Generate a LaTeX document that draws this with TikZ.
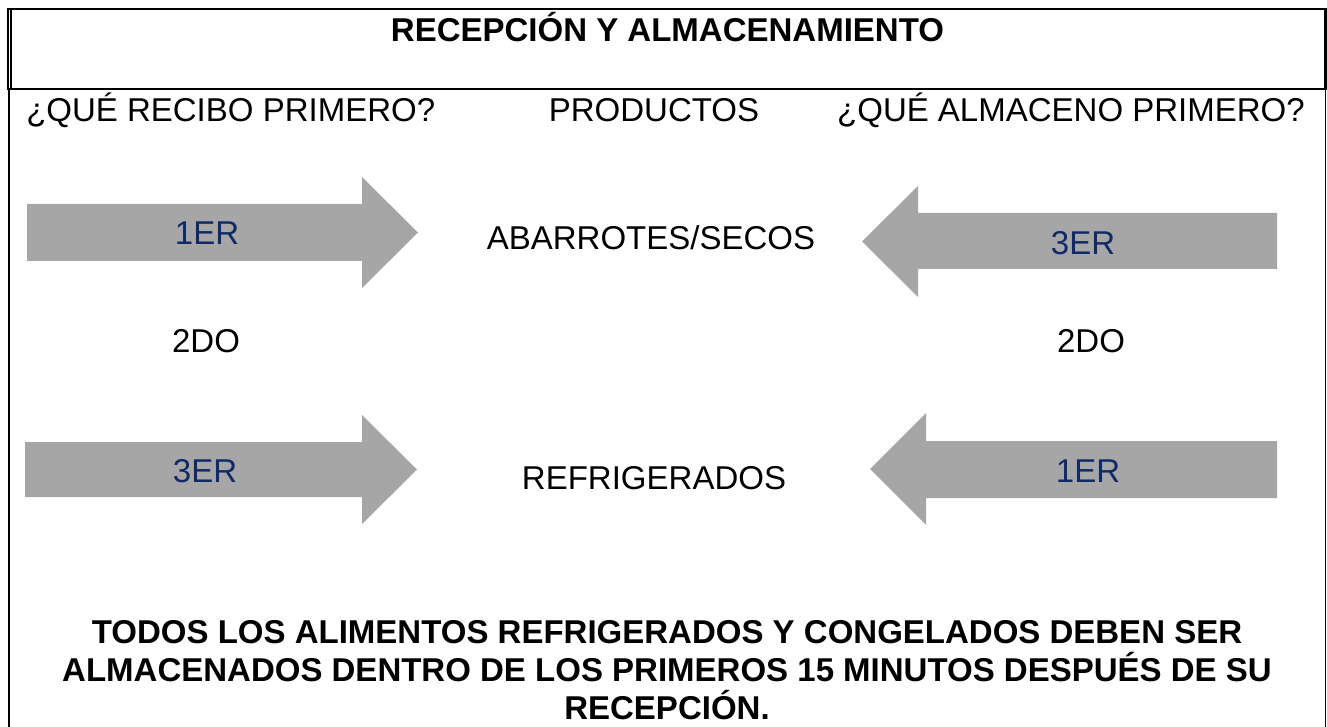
\documentclass[tikz,border=0pt]{standalone}
\usepackage{fontspec}
\setmainfont{Liberation Sans}
\usepackage{xcolor}
\usetikzlibrary{positioning}

\definecolor{flechagris}{RGB}{166,166,166}
\definecolor{azulorden}{RGB}{16,42,104}

\tikzset{
    texto/.style={inner sep=0pt, anchor=base, font=\fontsize{24.75}{28.5}\selectfont},
    titulo/.style={texto, font=\bfseries\fontsize{24.75}{28.5}\selectfont},
    orden/.style={texto, text=azulorden},
    flecha/.style={fill=flechagris},
}

\begin{document}
\begin{tikzpicture}[x=0.75pt, y=-0.75pt]
    \useasboundingbox (0,0) rectangle (1327,727);

    % marco
    \draw[line width=2.2pt] (7,9) -- (1327,9);
    \draw[line width=2.2pt] (7,89) -- (1327,89);
    \draw[line width=1.3pt] (8.2,8) -- (8.2,90);
    \draw[line width=1.3pt] (10.9,8) -- (10.9,90);
    \draw[line width=1.8pt] (1325.6,8) -- (1325.6,90);
    \draw[line width=1.5pt] (9,89) -- (9,727);
    \draw[line width=0.8pt] (1325.8,89) -- (1325.8,727);

    \node[titulo] (titulo) at (667.5,42) {RECEPCIÓN Y ALMACENAMIENTO};

    \node[texto, anchor=base west] (recibo) at (26,122) {¿QUÉ RECIBO PRIMERO?};
    \node[texto] (productos) at (654,122) {PRODUCTOS};
    \node[texto, anchor=base east] (almaceno) at (1305,122) {¿QUÉ ALMACENO PRIMERO?};

    % flechas
    \fill[flecha] (27,204) -- (362,204) -- (362,177) -- (418,232.5)
        -- (362,288) -- (362,261) -- (27,261) -- cycle;
    \fill[flecha] (1277,213) -- (918,213) -- (918,186) -- (862,241.5)
        -- (918,297) -- (918,269) -- (1277,269) -- cycle;
    \fill[flecha] (25,442) -- (362,442) -- (362,415) -- (417,469.5)
        -- (362,524) -- (362,497) -- (25,497) -- cycle;
    \fill[flecha] (1277,441) -- (926,441) -- (926,413) -- (870,469)
        -- (926,525) -- (926,498) -- (1277,498) -- cycle;

    \node[orden] (primeroR) at (207,245) {1ER};
    \node[orden] (terceroA) at (1083,255) {3ER};
    \node[orden] (terceroR) at (205,482) {3ER};
    \node[orden] (primeroA) at (1088,482) {1ER};

    \node[texto] (abarrotes) at (651,250) {ABARROTES/SECOS};
    \node[texto] (segundoR) at (206,352) {2DO};
    \node[texto] (segundoA) at (1091,352) {2DO};
    \node[texto] (refrigerados) at (654,489) {REFRIGERADOS};

    % la base del nodo es la ultima linea
    \node[titulo, align=center] (nota) at (667,719)
        {TODOS LOS ALIMENTOS REFRIGERADOS Y CONGELADOS DEBEN SER\\
         ALMACENADOS DENTRO DE LOS PRIMEROS 15 MINUTOS DESPUÉS DE SU\\
         RECEPCIÓN.};
\end{tikzpicture}
\end{document}
